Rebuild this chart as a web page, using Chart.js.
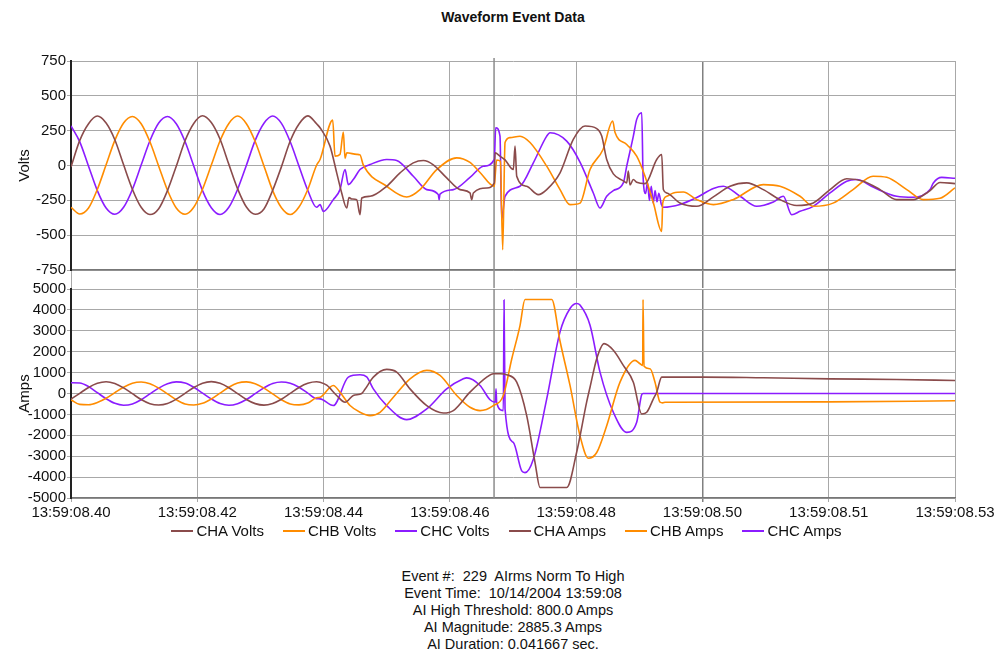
<!DOCTYPE html>
<html>
<head>
<meta charset="utf-8">
<script src="https://cdn.jsdelivr.net/npm/chart.js@4.4.0/dist/chart.umd.min.js"></script>
<style>
html,body{margin:0;padding:0;background:#fff;}
#wrap{position:relative;width:998px;height:656px;overflow:hidden;font-family:Arial,"Liberation Sans",sans-serif;color:#111;}
#title{position:absolute;left:0;width:1026px;top:9px;text-align:center;font-weight:bold;font-size:14px;line-height:17px;}
#topc{position:absolute;left:0;top:0;}
#botc{position:absolute;left:0;top:279px;}
#legend{position:absolute;left:0;width:1013px;top:522px;height:18px;display:flex;justify-content:center;gap:19px;font-size:15px;line-height:18px;}
#legend .it{display:flex;align-items:center;white-space:nowrap;}
#legend .mk{display:inline-block;width:22px;height:2px;margin-right:3px;}
#info{position:absolute;left:0;width:1026px;top:568px;text-align:center;font-size:14.5px;line-height:17px;white-space:pre;}
</style>
</head>
<body>
<div id="wrap">
  <div id="title">Waveform Event Data</div>
  <canvas id="topc" width="998" height="288"></canvas>
  <canvas id="botc" width="998" height="245"></canvas>
  <div id="legend"></div>
  <div id="info"></div>
</div>
<script>
// ---------- data (time in ms after 13:59:08.40) ----------
const xTickLabels = ["13:59:08.40","13:59:08.42","13:59:08.44","13:59:08.46","13:59:08.48","13:59:08.50","13:59:08.51","13:59:08.53"];
const seriesNames = ["CHA Volts","CHB Volts","CHC Volts","CHA Amps","CHB Amps","CHC Amps"];
const infoLines = ["Event #:  229  AIrms Norm To High","Event Time:  10/14/2004 13:59:08","AI High Threshold: 800.0 Amps","AI Magnitude: 2885.3 Amps","AI Duration: 0.041667 sec."];
const EVENT_T = 67.0;

const preTimes = [0,1.39,2.78,4.17,5.56,6.94,8.33,9.72,11.11,12.5,13.89,15.28,16.67,18.06,19.44,20.83,22.22,23.61,25,26.39,27.78,29.17,30.56,31.94,33.33,34.72,36.11,37.5,38.89];

const chaVoltsPre = [-10,180,300,355,305,185,5,-170,-300,-352,-310,-180,-5,178,302,357,308,188,8,-168,-298,-350,-312,-178,-8,176,298,356,300];
const chbVoltsPre = [-300,-348,-305,-172,5,180,305,352,300,170,-5,-178,-305,-350,-300,-170,3,178,302,355,300,172,-3,-180,-303,-352,-298,-172,2];
const chcVoltsPre = [285,170,-5,-180,-305,-350,-300,-172,3,178,305,352,300,172,-3,-180,-303,-352,-300,-170,2,180,303,355,302,170,-5,-178,-300];
const chaAmpsPre = [-270,10,290,490,565,480,270,-10,-290,-490,-550,-480,-270,5,285,495,570,485,275,-5,-285,-485,-555,-475,-275,8,290,490,560];
const chbAmpsPre = [-300,-520,-535,-430,-230,40,300,490,550,470,260,-20,-300,-500,-550,-470,-260,20,300,500,555,470,260,-20,-300,-500,-545,-460,-200];
const chcAmpsPre = [515,505,330,40,-250,-470,-560,-500,-300,-20,260,470,555,500,300,20,-260,-480,-565,-490,-290,-10,270,480,550,490,300,20,-250];

const chaVoltsFault = [[39.44,271],[41.02,139],[42.08,-53],[42.87,-197],[43.66,-305],[44.03,-230],[44.46,-240],[45.25,-245],[45.77,-353],[46.04,-233],[47.36,-221],[50.0,-149],[52.11,-53],[54.21,19],[55.8,36],[57.38,5],[59.5,-89],[61.61,-173],[63.19,-197],[63.46,-245],[63.72,-197],[65.84,-161],[67.04,-125],[67.15,91],[67.94,67],[68.74,40],[70.05,-29],[70.32,139],[70.59,-77],[72.17,-149],[74.01,-209],[75.34,-173],[77.45,-53],[79.55,187],[81.41,283],[83.26,265],[84.05,211],[84.84,43],[85.89,-60],[87.47,-110],[88.01,-125],[88.26,-40],[88.53,-140],[89.06,-101],[89.59,-120],[90.91,-130],[92.76,43],[93.55,79],[93.81,-173],[94.35,-197],[96.45,-269],[99.1,-293],[101.73,-225],[104.37,-149],[107.02,-125],[109.64,-173],[112.29,-245],[114.93,-287],[117.56,-269],[120.21,-173],[122.85,-95],[125.48,-113],[128.13,-173],[130.77,-245],[133.4,-245],[135.53,-197],[136.05,-180],[137.63,-122],[140.0,-130]];
const chbVoltsFault = [[39.44,43],[41.45,326],[41.81,67],[42.6,80],[43.13,240],[43.4,50],[43.66,91],[45.25,80],[45.77,76],[46.29,4],[50.0,-149],[53.17,-226],[55.27,-173],[57.92,-29],[61.09,55],[63.19,22],[64.78,-50],[67.04,-150],[67.2,-60],[67.42,40],[68.0,30],[68.37,-605],[68.74,165],[69.53,200],[71.11,210],[72.7,165],[75.34,-5],[77.45,-173],[79.03,-281],[80.61,-270],[82.2,-29],[84.26,115],[85.79,319],[86.16,237],[88.01,151],[89.59,67],[90.91,-77],[92.23,-268],[93.55,-473],[93.71,-270],[94.35,-221],[95.39,-197],[96.98,-190],[99.1,-245],[101.73,-281],[104.85,-245],[109.64,-137],[112.29,-149],[115.46,-221],[117.56,-293],[120.68,-270],[123.85,-173],[127.02,-77],[129.19,-85],[132.36,-173],[134.99,-245],[137.63,-235],[140.0,-160]];
const chcVoltsFault = [[39.44,-281],[39.96,-330],[41.54,-245],[42.6,-173],[43.4,-29],[43.92,-137],[44.71,-101],[45.77,-29],[47.36,7],[50.0,43],[51.58,36],[54.21,-77],[56.34,-173],[58.17,-209],[58.3,-245],[58.44,-205],[60.55,-173],[63.19,-86],[65.3,-5],[67.04,43],[67.26,271],[67.94,211],[68.21,-389],[68.74,-221],[71.11,-149],[73.22,19],[75.34,211],[75.86,235],[78.51,175],[80.61,25],[82.72,-197],[83.78,-305],[84.84,-221],[85.89,-180],[87.47,-125],[88.01,-5],[89.06,211],[89.59,331],[90.39,379],[90.6,-77],[91.0,-200],[91.3,-120],[91.6,-250],[91.9,-150],[92.2,-270],[92.5,-180],[92.8,-260],[93.1,-200],[93.5,-280],[93.81,-300],[96.45,-280],[99.1,-230],[101.73,-165],[103.31,-149],[105.96,-221],[108.6,-293],[111.23,-262],[112.81,-221],[114.14,-353],[115.46,-329],[117.56,-293],[120.21,-197],[122.85,-113],[124.43,-101],[127.02,-155],[130.77,-221],[133.4,-228],[136.05,-173],[136.57,-125],[137.9,-85],[140.0,-92]];

const chaAmpsFault = [[39.44,543],[40.5,400],[42.08,-96],[43.4,-418],[44.71,-96],[46.04,0],[46.56,200],[47.88,784],[50.0,1154],[51.58,1024],[53.69,221],[56.34,-577],[58.96,-933],[60.55,-818],[63.19,63],[65.84,784],[66.88,943],[67.94,943],[69.0,900],[70.59,543],[72.17,-1058],[73.49,-3303],[74.28,-4500],[78.51,-4500],[80.09,-2800],[81.67,-400],[82.2,300],[83.26,1664],[84.42,2385],[85.89,2067],[87.47,1346],[89.06,543],[90.39,-981],[91.18,-899],[92.23,-257],[92.76,63],[93.55,784],[100.14,784],[109.64,750],[120.21,702],[130.77,673],[140.0,625]];
const chbAmpsFault = [[39.44,-178],[41.54,385],[42.6,63],[44.19,-577],[45.77,-899],[47.36,-1058],[48.94,-899],[51.05,-178],[53.69,702],[56.34,1106],[58.44,865],[61.09,-96],[63.19,-658],[64.78,-818],[66.88,-577],[68.47,-96],[69.8,1650],[71.11,3250],[71.9,4500],[76.13,4500],[77.45,2500],[79.03,385],[80.61,-2019],[81.93,-3100],[83.26,-2822],[84.84,-1539],[86.95,543],[89.33,1587],[90.12,1423],[90.54,1346],[90.59,4500],[90.75,1300],[91.7,1183],[92.49,543],[93.29,-418],[93.71,-450],[94.08,-418],[120.0,-400],[140.0,-350]];
const chcAmpsFault = [[39.44,-257],[41.54,-577],[43.92,784],[45.77,894],[46.83,800],[47.88,221],[50.0,-577],[53.17,-1250],[56.34,-740],[59.5,221],[62.13,702],[62.67,750],[64.78,385],[66.36,-300],[67.2,-418],[67.31,221],[67.42,-450],[68.47,-818],[68.58,4471],[68.74,-740],[70.05,-2341],[71.38,-3702],[71.9,-3784],[73.22,-3144],[75.34,-257],[77.45,2947],[79.03,4068],[80.09,4308],[80.61,4231],[82.2,3269],[83.78,1024],[85.89,-899],[88.01,-1861],[89.59,-1380],[90.39,-50],[90.6,0],[140.0,0]];

// ---------- styling ----------
const FONT = 'Arial, "Liberation Sans", sans-serif';
const seriesColors = ["#8A4B4B","#FF8C00","#8B1CFF","#8A4B4B","#FF8C00","#8B1CFF"];
const GRID = '#a8a8a8';
const GRID_DARK = '#808080';
const DARK_TICK = 100; // the .50 gridline is drawn darker in the reference

function toPoints(times, vals, fault){
  return times.map((t,i)=>({x:t,y:vals[i]})).concat(fault.map(p=>({x:p[0],y:p[1]})));
}
function ds(idx, pts){
  return {label:seriesNames[idx], data:pts, borderColor:seriesColors[idx], backgroundColor:seriesColors[idx],
          borderWidth:1.6, pointRadius:0, fill:false, cubicInterpolationMode:'monotone'};
}

const eventLine = {
  id:'eventLine',
  beforeDatasetsDraw(chart, args, opts){
    const {ctx, chartArea, scales} = chart;
    const px = scales.x.getPixelForValue(EVENT_T);
    ctx.save();
    ctx.strokeStyle = '#8c8c8c';
    ctx.lineWidth = 1.5;
    ctx.beginPath();
    ctx.moveTo(px, chartArea.top - (opts.up||0));
    ctx.lineTo(px, chartArea.bottom + (opts.down||0));
    ctx.stroke();
    ctx.restore();
  }
};

function makeOptions(cfg){
  return {
    responsive:false, animation:false, devicePixelRatio:1,
    layout:{padding:{left:0,right:43,top:cfg.padTop,bottom:0}},
    plugins:{
      tooltip:{enabled:false},
      legend:{display:false},
      eventLine:{up:cfg.up, down:cfg.down}
    },
    scales:{
      x:{
        type:'linear', min:0, max:140,
        ticks:{stepSize:20, display:cfg.showX, autoSkip:false, maxRotation:0, padding:2, color:'#111', font:{size:15, family:FONT},
               callback:v=>xTickLabels[Math.round(v/20)]},
        grid:{color:c=>(c.tick && c.tick.value===DARK_TICK ? GRID_DARK : GRID),
              lineWidth:c=>(c.tick && c.tick.value===DARK_TICK ? 1.5 : 1),
              tickLength:cfg.tickLen, drawTicks:true},
        border:{color:'#777', width:1.5}
      },
      y:{
        min:cfg.min, max:cfg.max,
        ticks:{stepSize:cfg.step, autoSkip:false, color:'#111', padding:1, font:{size:15, family:FONT}, callback:v=>String(v)},
        grid:{color:GRID, lineWidth:1, tickLength:4},
        border:{color:'#222', width:2},
        title:{display:true, text:cfg.title, color:'#111', font:{size:15, family:FONT}, padding:{top:16, bottom:0}},
        afterFit:s=>{s.width = 71;}
      }
    }
  };
}

new Chart(document.getElementById('topc'), {
  type:'line',
  data:{datasets:[
    ds(0, toPoints(preTimes, chaVoltsPre, chaVoltsFault)),
    ds(1, toPoints(preTimes, chbVoltsPre, chbVoltsFault)),
    ds(2, toPoints(preTimes, chcVoltsPre, chcVoltsFault))
  ]},
  options:makeOptions({padTop:61, showX:false, tickLen:18, min:-750, max:750, step:250, title:'Volts', up:3, down:18}),
  plugins:[eventLine]
});

new Chart(document.getElementById('botc'), {
  type:'line',
  data:{datasets:[
    ds(3, toPoints(preTimes, chaAmpsPre, chaAmpsFault)),
    ds(4, toPoints(preTimes, chbAmpsPre, chbAmpsFault)),
    ds(5, toPoints(preTimes, chcAmpsPre, chcAmpsFault))
  ]},
  options:makeOptions({padTop:9, showX:true, tickLen:4, min:-5000, max:5000, step:1000, title:'Amps', up:0, down:0}),
  plugins:[eventLine]
});

// legend (real text) built from the series names and colours
const lg = document.getElementById('legend');
seriesNames.forEach((n,i)=>{
  const it = document.createElement('span'); it.className='it';
  const mk = document.createElement('span'); mk.className='mk'; mk.style.background = seriesColors[i];
  const tx = document.createElement('span'); tx.textContent = n;
  it.appendChild(mk); it.appendChild(tx); lg.appendChild(it);
});
document.getElementById('info').textContent = infoLines.join('\n');
</script>
</body>
</html>
